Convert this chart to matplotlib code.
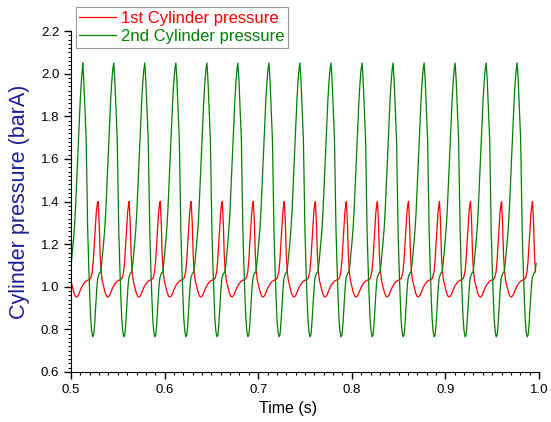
import numpy as np
import matplotlib
matplotlib.use('Agg')
import matplotlib.pyplot as plt
from matplotlib.ticker import MultipleLocator, FormatStrFormatter

plt.rcParams['font.family'] = ['Liberation Sans', 'DejaVu Sans']

# peak times (s)
green_peaks = [0.4800, 0.5125, 0.5457, 0.5788, 0.6120, 0.6452, 0.6783, 0.7115,
               0.7446, 0.7778, 0.8110, 0.8441, 0.8773, 0.9104, 0.9436, 0.9767]
red_peaks = [0.4955, 0.5290, 0.5621, 0.5953, 0.6284, 0.6616, 0.6948, 0.7279,
             0.7611, 0.7942, 0.8274, 0.8606, 0.8937, 0.9269, 0.9600, 0.9931]

# one cycle of each trace, time after its peak (ms) and pressure (barA)
green_cycle_ms = [0.0, 1.1, 2.1, 3.2, 3.7, 4.3, 5.3, 6.4, 7.5, 8.5, 9.6, 10.7,
                  11.8, 12.8, 13.9, 15.0, 16.0, 17.6, 19.2, 20.3, 21.4, 22.4,
                  23.5, 24.6, 25.6, 26.7, 27.8, 28.8, 29.9, 31.0, 32.1]
green_cycle_p = [2.05, 1.97, 1.86, 1.74, 1.69, 1.52, 1.27, 1.10, 0.96, 0.85,
                 0.79, 0.765, 0.775, 0.83, 0.91, 0.99, 1.04, 1.062, 1.07, 1.11,
                 1.16, 1.21, 1.27, 1.35, 1.45, 1.56, 1.67, 1.78, 1.88, 1.96, 2.02]

red_cycle_ms = [0.0, 1.1, 2.1, 3.2, 4.3, 5.9, 7.5, 9.1, 10.7, 12.3, 13.9, 15.5,
                17.1, 18.7, 20.3, 21.9, 23.5, 25.6, 27.2, 28.3, 29.4, 30.5,
                31.5, 32.6]
red_cycle_p = [1.40, 1.30, 1.15, 1.07, 1.03, 1.00, 0.972, 0.955, 0.952, 0.96,
               0.978, 0.995, 1.008, 1.018, 1.026, 1.030, 1.033, 1.04, 1.07, 1.12,
               1.20, 1.28, 1.35, 1.39]

t_end = 0.997


def build(peaks, cyc_ms, cyc_p):
    t = np.concatenate([pk + np.array(cyc_ms) / 1000.0 for pk in peaks])
    p = np.concatenate([np.array(cyc_p) for pk in peaks])
    keep = t <= t_end
    return t[keep], p[keep]


t_red, p_red = build(red_peaks, red_cycle_ms, red_cycle_p)
t_green, p_green = build(green_peaks, green_cycle_ms, green_cycle_p)

fig = plt.figure(figsize=(5.51, 4.22), dpi=100)
ax = fig.add_axes([0.1289, 0.1185, 0.8493, 0.808])

l1, = ax.plot(t_red, p_red, color='#ff0000', lw=0.9, label='1st Cylinder pressure')
l2, = ax.plot(t_green, p_green, color='#008000', lw=0.9, label='2nd Cylinder pressure')

ax.set_xlim(0.5, 1.0)
ax.set_ylim(0.6, 2.2)
ax.xaxis.set_major_locator(MultipleLocator(0.1))
ax.xaxis.set_minor_locator(MultipleLocator(0.01))
ax.yaxis.set_major_locator(MultipleLocator(0.2))
ax.yaxis.set_minor_locator(MultipleLocator(0.02))
ax.tick_params(which='major', direction='out', length=5, width=1, labelsize=9.5)
ax.tick_params(which='minor', direction='out', length=2.5, width=0.8)
ax.xaxis.set_major_formatter(FormatStrFormatter('%.1f'))
ax.yaxis.set_major_formatter(FormatStrFormatter('%.1f'))

ax.spines['top'].set_visible(False)
ax.spines['right'].set_visible(False)

ax.set_xlabel('Time (s)', fontsize=11.5, labelpad=6)
ax.xaxis.set_label_coords(0.464, -0.085)
ax.set_ylabel('Cylinder pressure (barA)', fontsize=15.5, color='#1e1e96', labelpad=8)

leg = fig.legend(handles=[l1, l2], loc='upper left', bbox_to_anchor=(0.138, 0.983),
                 bbox_transform=fig.transFigure, borderaxespad=0, fontsize=12,
                 frameon=True, fancybox=False, handlelength=2.2, handletextpad=0.3,
                 labelspacing=0.22, borderpad=0.2)
leg.get_frame().set_edgecolor('#808080')
leg.get_frame().set_linewidth(0.8)
for txt, c in zip(leg.get_texts(), ['#ff0000', '#008000']):
    txt.set_color(c)

fig.savefig('out.png', dpi=100)
